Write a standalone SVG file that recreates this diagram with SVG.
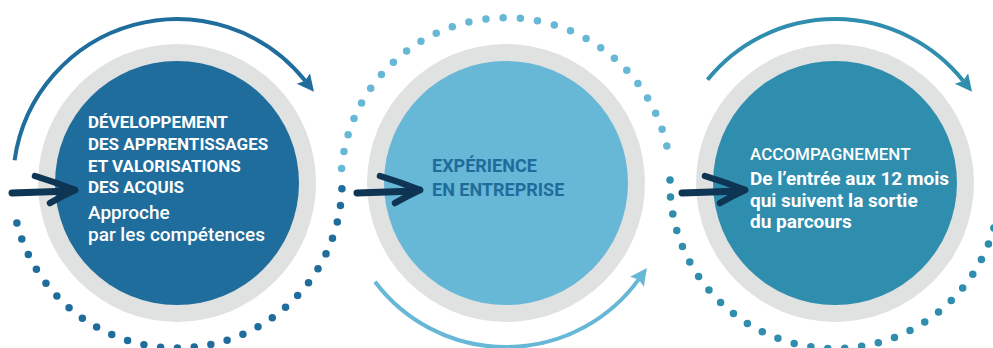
<svg xmlns="http://www.w3.org/2000/svg" width="993" height="348" viewBox="0 0 993 348">
<style>
.ring{fill:#e0e1e1}
.solid{fill:none;stroke-width:4;stroke-linecap:butt}
.dots{fill:none;stroke-width:7.5;stroke-linecap:round}
.nav{fill:none;stroke:#0e3553;stroke-linecap:round;stroke-linejoin:round}
text{font-family:Roboto,"Liberation Sans",sans-serif}
.cap{font-size:17px;font-weight:700;fill:#ffffff}
.sub{font-size:19px;font-weight:500;fill:#ffffff}
.cap2{font-size:18px;font-weight:700;fill:#1f6c9c}
.cap3{font-size:17px;font-weight:500;fill:#ffffff}
.sub3{font-size:19px;font-weight:700;fill:#ffffff}
</style>
<defs>
<marker id="h1" markerUnits="userSpaceOnUse" markerWidth="20" markerHeight="20" viewBox="0 -10 20 20" refX="3" refY="0" orient="auto"><path d="M0,-8.5 L17,0 L0,8.5 L3,0 Z" fill="#1f6d9c"/></marker>
<marker id="h2" markerUnits="userSpaceOnUse" markerWidth="20" markerHeight="20" viewBox="0 -10 20 20" refX="3" refY="0" orient="auto"><path d="M0,-8.5 L17,0 L0,8.5 L3,0 Z" fill="#67b8d6"/></marker>
<marker id="h3" markerUnits="userSpaceOnUse" markerWidth="20" markerHeight="20" viewBox="0 -10 20 20" refX="3" refY="0" orient="auto"><path d="M0,-8.5 L17,0 L0,8.5 L3,0 Z" fill="#2f8dad"/></marker>
<g id="navArrow">
<path class="nav" d="M-63,2 L-4,0" stroke-width="7"/>
<path class="nav" d="M-40,-15 Q-20,-9 0,-1" stroke-width="6.5"/>
<path class="nav" d="M0,-1 Q-13,5 -25,12" stroke-width="6.5"/>
</g>
</defs>

<g id="node1">
<circle class="ring" cx="177" cy="183" r="139"/>
<circle cx="177" cy="183" r="122" fill="#1f6d9c"/>
<text class="cap" x="88" y="128">DÉVELOPPEMENT</text>
<text class="cap" x="88" y="150">DES APPRENTISSAGES</text>
<text class="cap" x="88" y="172">ET VALORISATIONS</text>
<text class="cap" x="88" y="193">DES ACQUIS</text>
<text class="sub" x="88" y="219">Approche</text>
<text class="sub" x="88" y="241">par les compétences</text>
</g>

<g id="node2">
<circle class="ring" cx="506" cy="183" r="139"/>
<circle cx="506" cy="183" r="122" fill="#67b8d6"/>
<text class="cap2" x="432" y="172">EXPÉRIENCE</text>
<text class="cap2" x="432" y="196">EN ENTREPRISE</text>
</g>

<g id="node3">
<circle class="ring" cx="835" cy="183" r="139"/>
<circle cx="835" cy="183" r="122" fill="#2f8dad"/>
<text class="cap3" x="750" y="160">ACCOMPAGNEMENT</text>
<text class="sub3" x="750" y="185">De l’entrée aux 12 mois</text>
<text class="sub3" x="750" y="206.5">qui suivent la sortie</text>
<text class="sub3" x="750" y="228">du parcours</text>
</g>

<g id="connectors">
<path class="solid" stroke="#1f6d9c" marker-end="url(#h1)" d="M14.6,160.2 A164,164 0 0 1 305.2,80.8"/>
<path class="dots" stroke="#1f6d9c" pathLength="28" stroke-dasharray="0 1" d="M16.9,222.9 A165,165 0 0 0 341.9,188.8"/>
<path class="dots" stroke="#67b8d6" pathLength="28" stroke-dasharray="0 1" d="M341.6,168.6 A165,165 0 0 1 669.8,162.9"/>
<path class="solid" stroke="#67b8d6" marker-end="url(#h2)" d="M375,281.7 A164,164 0 0 0 638.7,279.4"/>
<path class="solid" stroke="#2f8dad" marker-end="url(#h3)" d="M707.5,79.8 A164,164 0 0 1 963.3,80.9"/>
<path class="dots" stroke="#2f8dad" pathLength="30" stroke-dasharray="0 1" d="M670,180.1 A165,165 0 0 0 999.6,194.5"/>
<use href="#navArrow" transform="translate(75,191)"/>
<use href="#navArrow" transform="translate(420,191)"/>
<use href="#navArrow" transform="translate(745,191)"/>
</g>
</svg>
